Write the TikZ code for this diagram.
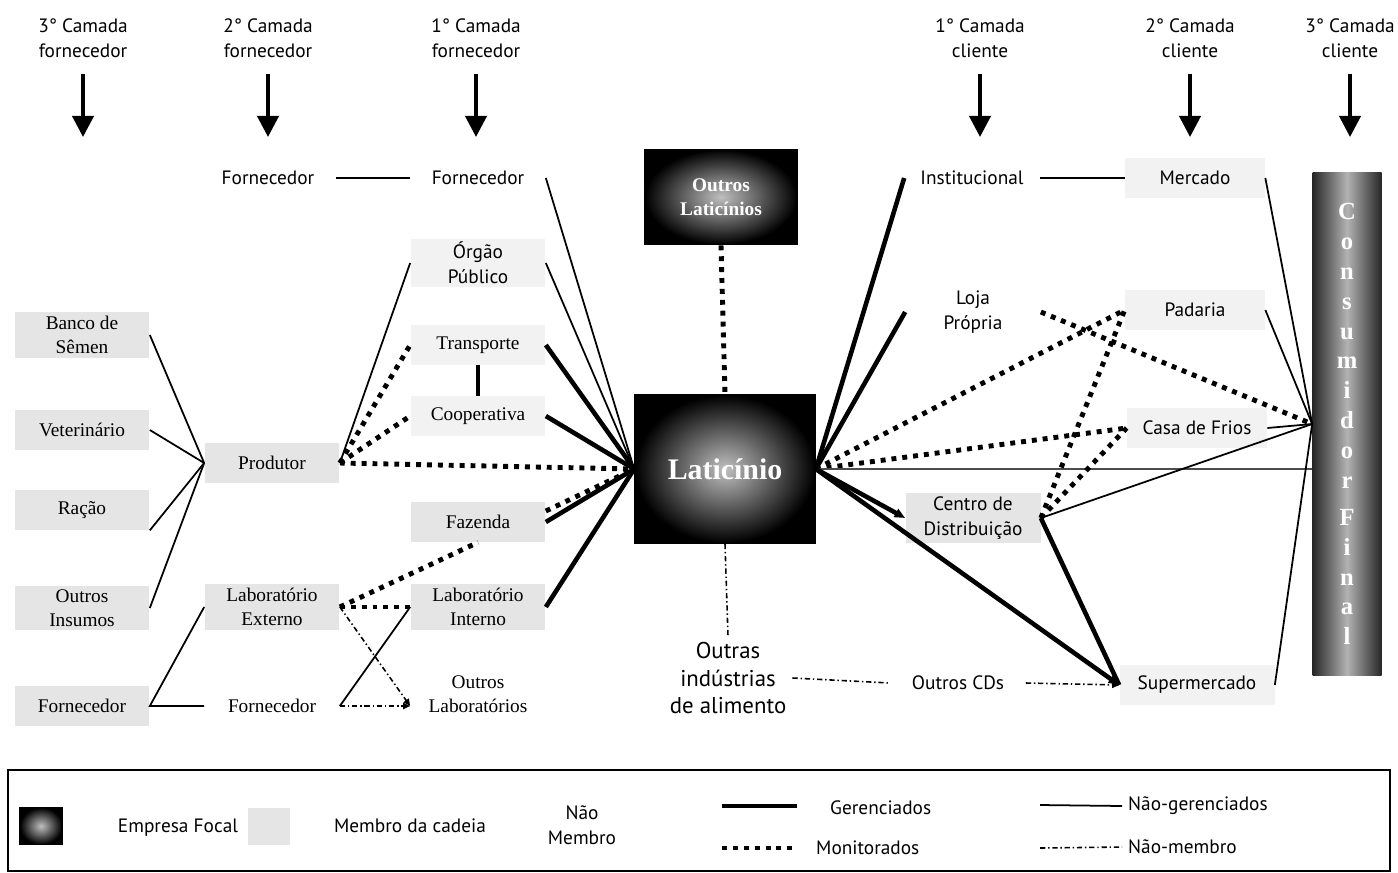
\documentclass[tikz,border=0pt]{standalone}
\usepackage{fontspec}
\setmainfont{Liberation Serif}
\newfontfamily\gillfont{PT Sans}
\usepackage{tikz}
\usetikzlibrary{arrows.meta, positioning, calc, shadings}

\tikzset{
  cabeca/.style={font=\gillfont\fontsize{11}{14}\selectfont, align=center},
  gill/.style={font=\gillfont\fontsize{11}{14}\selectfont},
  rotulo/.style={gill, align=center, minimum width=2.7cm, minimum height=0.8cm, inner ysep=2pt},
  externo/.style={font=\fontsize{11}{14}\selectfont, align=center, minimum width=2.7cm, minimum height=0.8cm, inner ysep=2pt},
  membro/.style={externo, fill=black!10},
  membroleve/.style={externo, fill=black!5},
  focal/.style={draw=black, line width=1pt, inner color=black!25, outer color=black, text=white, align=center},
  gerenciado/.style={line width=2.6pt},
  monitorado/.style={line width=2.8pt, dash pattern=on 2.8pt off 3.4pt},
  naogerenciado/.style={line width=1pt},
  naomembro/.style={line width=0.9pt, dash pattern=on 3pt off 1.6pt on 0.8pt off 1.6pt},
  seta/.style={line width=2.2pt, -{Triangle[length=12pt, width=12pt]}},
  ponta/.style={-{Triangle[length=6pt, width=5pt]}},
  pontinha/.style={-{Triangle[length=4pt, width=3.5pt]}},
}

\begin{document}
\begin{tikzpicture}[x=0.02cm, y=-0.02cm]
\useasboundingbox (0,0) rectangle (1398,872);

% camadas
\node[cabeca] (h3f) at (83,38) {3° Camada\\fornecedor};
\node[cabeca] (h2f) at (268,38) {2° Camada\\fornecedor};
\node[cabeca] (h1f) at (476,38) {1° Camada\\fornecedor};
\node[cabeca] (h1c) at (980,38) {1° Camada\\cliente};
\node[cabeca] (h2c) at (1190,38) {2° Camada\\cliente};
\node[cabeca] (h3c) at (1350,38) {3° Camada\\cliente};
\foreach \h in {h3f,h2f,h1f,h1c,h2c,h3c} {
  \coordinate (\h-fim) at ($(\h.center)+(0,99)$);
  \draw[seta, shorten <=6pt] (\h) -- (\h-fim);
}

% fornecedores
\node[membro] (banco) at (82,335) {Banco de\\Sêmen};
\node[membro] (vet) at (82,430) {Veterinário};
\node[membro] (racao) at (82,510) {Ração};
\node[membro] (insumos) at (82,608) {Outros\\Insumos};
\node[membro] (forn3) at (82,706) {Fornecedor};
\node[rotulo] (forn2) at (268,178) {Fornecedor};
\node[membro] (produtor) at (272,463) {Produtor};
\node[membro] (labext) at (272,607) {Laboratório\\Externo};
\node[externo] (fornB) at (272,706) {Fornecedor};
\node[rotulo] (forn1) at (478,178) {Fornecedor};
\node[membroleve, gill] (orgao) at (478,263) {Órgão\\Público};
\node[membroleve] (transp) at (478,345) {Transporte};
\node[membroleve] (coop) at (478,416) {Cooperativa};
\node[membro] (fazenda) at (478,522) {Fazenda};
\node[membro] (labint) at (478,607) {Laboratório\\Interno};
\node[externo] (outlab) at (478,694) {Outros\\Laboratórios};

% empresa focal
\node[focal, minimum width=3.6cm, minimum height=2.96cm, font=\bfseries\fontsize{17}{20}\selectfont] (lat) at (725,469) {Laticínio};
\node[focal, minimum width=3.04cm, minimum height=1.9cm, font=\bfseries\fontsize{11}{14}\selectfont] (outlat) at (721,197) {Outros\\Laticínios};
\node[gill, align=center, font=\gillfont\fontsize{13}{15.5}\selectfont] (outind) at (728,678) {Outras\\indústrias\\de alimento};

% clientes
\node[rotulo] (inst) at (972,178) {Institucional};
\node[rotulo] (loja) at (973,312) {Loja\\Própria};
\node[membro, gill] (cd) at (973,518) {Centro de\\Distribuição};
\node[rotulo] (outcd) at (958,683) {Outros CDs};
\node[membroleve, gill, minimum width=2.8cm] (mercado) at (1195,178) {Mercado};
\node[membroleve, gill, minimum width=2.8cm] (padaria) at (1195,310) {Padaria};
\node[membroleve, gill, minimum width=2.8cm] (casa) at (1197,428) {Casa de Frios};
\node[membroleve, gill, minimum width=3.1cm] (super) at (1197,685) {Supermercado};
\node[left color=black!85, right color=black!85, middle color=black!30, minimum width=1.38cm, minimum height=10.08cm,
      text=white, font=\bfseries\fontsize{14}{17}\selectfont, align=center] (cons) at (1347,424)
  {C\\o\\n\\s\\u\\m\\i\\d\\o\\r\\[4pt]F\\i\\n\\a\\l};

% ligacoes lado fornecedor
\foreach \n in {banco,vet,insumos} \draw[naogerenciado] (\n.east) -- (produtor.west);
\draw[naogerenciado] (racao.south east) -- (produtor.west);
\draw[naogerenciado] (labext.west) -- (forn3.east) -- (fornB.west);
\draw[naogerenciado] (fornB.east) -- (labint.west);
\coordinate (entlab) at (fornB.east -| outlab.west);
\draw[naomembro, pontinha] (fornB.east) -- (entlab);
\draw[naomembro, pontinha] (labext.east) -- (entlab);
\draw[monitorado] (labext.east) -- (labint.west);
\draw[monitorado] (labext.east) -- (fazenda.south);
\draw[naogerenciado] (produtor.east) -- (orgao.west);
\draw[monitorado] (produtor.east) -- (transp.west);
\draw[monitorado] (produtor.east) -- (coop.west);
\draw[monitorado] (produtor.east) -- (lat.west);
\draw[naogerenciado] (forn2.east) -- (forn1.west);
\draw[gerenciado] (transp.south) -- (coop.north);
\draw[naogerenciado] (forn1.east) -- (lat.west);
\draw[naogerenciado] (orgao.east) -- (lat.west);
\draw[gerenciado] (transp.east) -- (lat.west);
\draw[gerenciado] (coop.east) -- (lat.west);
\draw[gerenciado] (fazenda.east) -- (lat.west);
\draw[monitorado] ($(fazenda.east)+(0,-11)$) -- (lat.west);
\draw[gerenciado] (labint.east) -- (lat.west);
\draw[monitorado] (outlat.south) -- (lat.north);
\draw[naomembro] (lat.south) -- (outind.north);
\draw[naomembro] (outind.east) -- (outcd.west);
\draw[naomembro, pontinha] (outcd.east) -- (super.west);

% ligacoes lado cliente
\draw[gerenciado] (lat.east) -- (inst.west);
\draw[gerenciado] (lat.east) -- (loja.west);
\draw[monitorado] (lat.east) -- (padaria.west);
\draw[monitorado] (lat.east) -- (casa.west);
\draw[naogerenciado, black!70] (lat.east) -- (lat.east -| cons.west);
\draw[gerenciado, ponta] (lat.east) -- (cd.west);
\draw[gerenciado, ponta] (lat.east) -- (super.west);
\draw[gerenciado] (cd.east) -- (super.west);
\draw[monitorado] (cd.east) -- (padaria.west);
\draw[monitorado] (cd.east) -- (casa.west);
\draw[monitorado] (loja.east) -- (cons.west);
\draw[naogerenciado] (inst.east) -- (mercado.west);
\foreach \n in {mercado,padaria,casa,cd,super} \draw[naogerenciado] (\n.east) -- (cons.west);

% legenda
\draw[line width=0.9pt] (8,770) rectangle (1390,871);
\node[focal, minimum width=0.84cm, minimum height=0.74cm] (icfocal) at (41,826) {};
\node[gill] (lfocal) at (178,828) {Empresa Focal};
\node[fill=black!10, minimum width=0.84cm, minimum height=0.74cm] (icmembro) at (269,826) {};
\node[gill] (lmembro) at (410,826) {Membro da cadeia};
\node[gill, align=center] (lnao) at (582,825) {Não\\Membro};
\node[gill, anchor=west] (lger) at (824,808) {Gerenciados};
\node[gill, anchor=west] (lmon) at (810,848) {Monitorados};
\node[gill, anchor=west] (lnger) at (1122,806) {Não-gerenciados};
\node[gill, anchor=west] (lnmem) at (1122,847) {Não-membro};
\draw[gerenciado] (722,806) -- (797,806);
\draw[monitorado] (722,848) -- (795,848);
\draw[naogerenciado] (1040,805) -- (lnger.west);
\draw[naomembro] (1040,848) -- (lnmem.west);
\end{tikzpicture}
\end{document}
